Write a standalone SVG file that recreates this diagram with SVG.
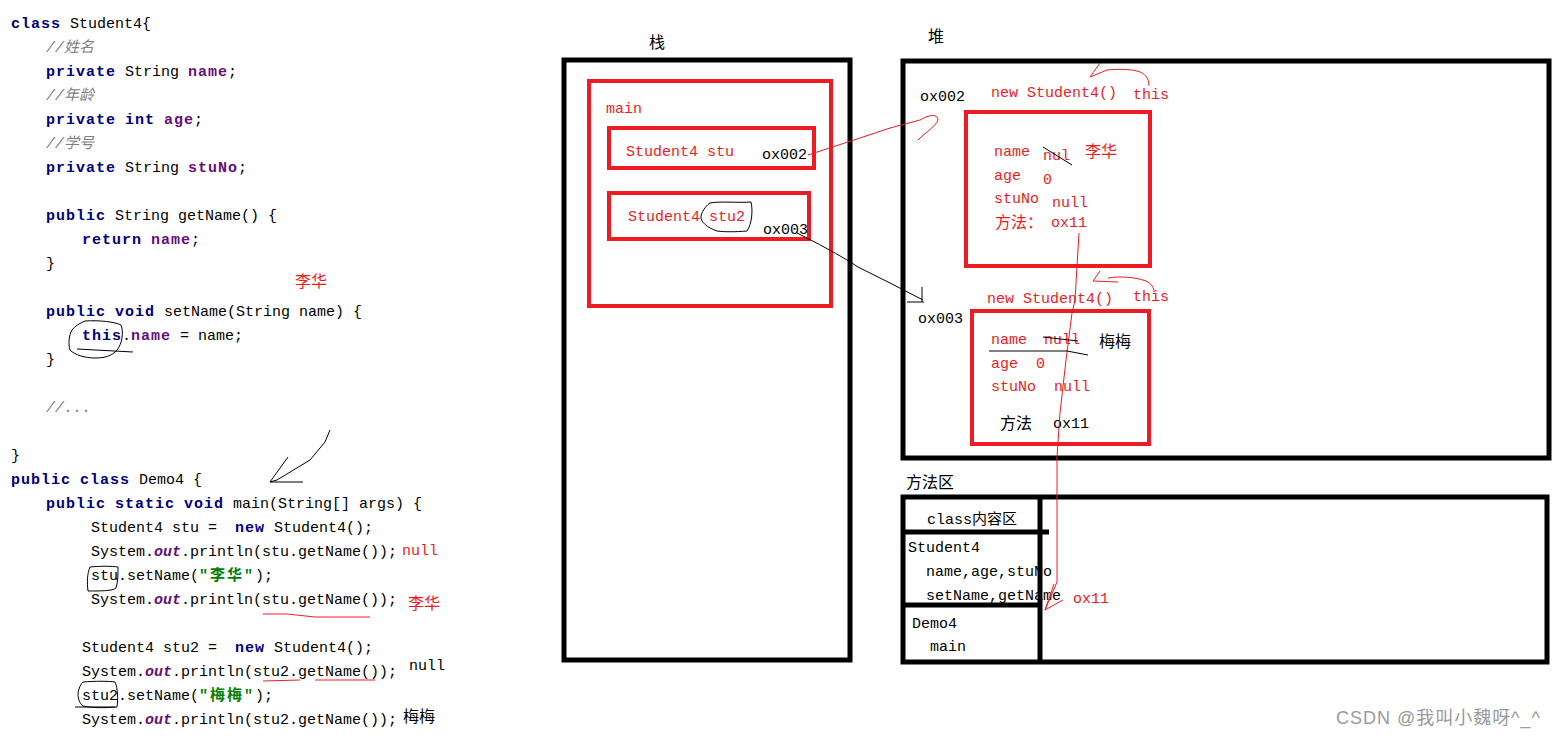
<svg xmlns="http://www.w3.org/2000/svg" width="1554" height="737" viewBox="0 0 1554 737">
<style>
text{font-family:"Liberation Mono","Noto Sans CJK SC",monospace;font-size:15px;white-space:pre;fill:#000}
.kw{fill:#000080;font-weight:bold;letter-spacing:1px}
.fd{fill:#660E7A;font-weight:bold;letter-spacing:1px}
.cm{fill:#808080;font-style:italic}
.st{fill:#008000;font-weight:bold;letter-spacing:2px}
.ot{fill:#660E7A;font-weight:bold;font-style:italic}
.r{fill:#ED1C24}
.cjk{font-family:"Noto Sans CJK SC",sans-serif;font-size:16px}
.wm{font-family:"Liberation Sans","Noto Sans CJK SC",sans-serif;font-size:18px;fill:#9a9a9a}
.bbox{fill:none;stroke:#000;stroke-width:5}
.rbox{fill:none;stroke:#ED1C24;stroke-width:4}
.hk{fill:none;stroke:#000;stroke-width:1}
.hr{fill:none;stroke:#ED1C24;stroke-width:1}
.ln{stroke:#000;stroke-width:5}
</style>
<rect width="1554" height="737" fill="#fff"/>

<g id="code">
<text x="11" y="28"><tspan class="kw">class</tspan> Student4{</text>
<text x="46" y="52" class="cm">//姓名</text>
<text x="46" y="76"><tspan class="kw">private</tspan> String <tspan class="fd">name</tspan>;</text>
<text x="46" y="100" class="cm">//年龄</text>
<text x="46" y="124"><tspan class="kw">private</tspan> <tspan class="kw">int</tspan> <tspan class="fd">age</tspan>;</text>
<text x="46" y="148" class="cm">//学号</text>
<text x="46" y="172"><tspan class="kw">private</tspan> String <tspan class="fd">stuNo</tspan>;</text>
<text x="46" y="220"><tspan class="kw">public</tspan> String getName() {</text>
<text x="82" y="244"><tspan class="kw">return</tspan> <tspan class="fd">name</tspan>;</text>
<text x="46" y="268">}</text>
<text x="46" y="316"><tspan class="kw">public</tspan> <tspan class="kw">void</tspan> setName(String name) {</text>
<text x="82" y="340"><tspan class="kw">this</tspan>.<tspan class="fd">name</tspan> = name;</text>
<text x="46" y="364">}</text>
<text x="46" y="412" class="cm">//...</text>
<text x="11" y="460">}</text>
<text x="11" y="484"><tspan class="kw">public</tspan> <tspan class="kw">class</tspan> Demo4 {</text>
<text x="46" y="508"><tspan class="kw">public</tspan> <tspan class="kw">static</tspan> <tspan class="kw">void</tspan> main(String[] args) {</text>
<text x="91" y="532">Student4 stu =  <tspan class="kw">new</tspan> Student4();</text>
<text x="91" y="556">System.<tspan class="ot">out</tspan>.println(stu.getName());</text>
<text x="91" y="580">stu.setName(<tspan class="st">"李华"</tspan>);</text>
<text x="91" y="604">System.<tspan class="ot">out</tspan>.println(stu.getName());</text>
<text x="82" y="652">Student4 stu2 =  <tspan class="kw">new</tspan> Student4();</text>
<text x="82" y="676">System.<tspan class="ot">out</tspan>.println(stu2.getName());</text>
<text x="82" y="700">stu2.setName(<tspan class="st">"梅梅"</tspan>);</text>
<text x="82" y="724">System.<tspan class="ot">out</tspan>.println(stu2.getName());</text>
<text x="46" y="748">}</text>
</g>

<g id="code-notes">
<text x="295" y="287" class="r cjk">李华</text>
<text x="402" y="555" class="r">null</text>
<text x="408" y="609" class="r cjk">李华</text>
<text x="409" y="670">null</text>
<text x="403" y="722" class="cjk">梅梅</text>
</g>

<g id="stack">
<text x="649" y="48" class="cjk">栈</text>
<rect x="564" y="60" width="286" height="600" class="bbox"/>
</g>
<g id="main-frame">
<rect x="589" y="81" width="242" height="225" class="rbox"/>
<text x="606" y="113" class="r">main</text>
</g>
<g id="var-stu">
<rect x="609" y="128" width="205" height="40" class="rbox"/>
<text x="626" y="156" class="r">Student4 stu</text>
<text x="762" y="159">ox002</text>
</g>
<g id="var-stu2">
<rect x="609" y="193" width="200" height="46" class="rbox"/>
<text x="628" y="221" class="r">Student4 stu2</text>
<text x="763" y="234">ox003</text>
</g>

<g id="heap">
<text x="928" y="42" class="cjk">堆</text>
<rect x="903" y="61" width="646" height="397" class="bbox"/>
<text x="920" y="101">ox002</text>
<text x="991" y="97" class="r">new Student4()</text>
<text x="1133" y="99" class="r">this</text>
<text x="987" y="303" class="r">new Student4()</text>
<text x="1133" y="301" class="r">this</text>
<text x="918" y="323">ox003</text>
</g>
<g id="obj1">
<rect x="966" y="112" width="184" height="154" class="rbox"/>
<text x="994" y="156" class="r">name</text>
<text x="1043" y="160" class="r">nul</text>
<text x="1085" y="157" class="r cjk">李华</text>
<text x="994" y="180" class="r">age</text>
<text x="1043" y="184" class="r">0</text>
<text x="994" y="203" class="r">stuNo</text>
<text x="1052" y="207" class="r">null</text>
<text x="995" y="228" class="r cjk">方法：</text>
<text x="1051" y="227" class="r">ox11</text>
</g>
<g id="obj2">
<rect x="972" y="311" width="177" height="133" class="rbox"/>
<text x="991" y="344" class="r">name</text>
<text x="1044" y="344" class="r">null</text>
<text x="1099" y="347" class="cjk">梅梅</text>
<text x="991" y="368" class="r">age</text>
<text x="1036" y="368" class="r">0</text>
<text x="991" y="391" class="r">stuNo</text>
<text x="1054" y="391" class="r">null</text>
<text x="1000" y="429" class="cjk">方法</text>
<text x="1053" y="428">ox11</text>
</g>

<g id="method-area">
<text x="906" y="488" class="cjk">方法区</text>
<text x="927" y="524">class内容区</text>
<text x="908" y="552">Student4</text>
<text x="926" y="576">name,age,stuNo</text>
<text x="926" y="600">setName,getName</text>
<text x="912" y="628">Demo4</text>
<text x="930" y="651">main</text>
<text x="1073" y="603" class="r">ox11</text>
<rect x="903" y="497" width="644" height="165" class="bbox"/>
<line x1="1040" y1="497" x2="1040" y2="662" class="ln"/>
<line x1="903" y1="532" x2="1049" y2="532" class="ln"/>
<line x1="903" y1="605" x2="1040" y2="605" class="ln"/>
</g>

<g id="connectors">
<path class="hr" d="M808,155 L860,138 L890,128 L920,120 C930,114 938,114 938,120 C936,126 926,132 918,140"/>
<path class="hk" d="M797,233 C815,242 840,255 858,267 L890,283 L923,300 M922,287 L922,302 M907,302 L924,302"/>
<path class="hr" d="M1079,233 L1075,300 L1072,313 L1066,360 L1060,413 L1057,457 L1057,582 L1045,610 M1045,610 L1054,584 M1045,610 L1063,600"/>
</g>

<g id="sketch-marks">
<path class="hr" d="M1100,63 L1090,77 L1107,70 C1115,69 1130,69 1137,71 C1145,73 1149,78 1149,86"/>
<path class="hr" d="M1100,271 L1093,281 L1118,282 M1108,278 C1120,276 1135,277 1146,281 C1152,284 1154,288 1154,292"/>
<path class="hk" d="M1043,147 L1072,165"/>
<path class="hk" d="M1043,337 L1078,341 M989,351 L1067,351 L1088,355"/>
<path class="hk" d="M710,203 C720,201 740,203 751,202 C753,210 752,224 747,231 C735,232 725,232 717,231 C708,228 700,222 701,216 C703,209 707,205 710,203"/>
<path class="hk" d="M85,321 C100,320 115,322 121,325 C124,332 122,344 117,350 C112,356 105,358 95,358 C85,358 75,355 70,350 C68,344 69,335 72,330 C75,326 80,323 85,321 M77,349 L133,352"/>
<path class="hk" d="M330,430 L325,442 L310,460 L277,480 L270,482 L303,482 M288,457 L270,482"/>
<path class="hk" d="M90,567 C100,566 112,566 118,567 C118,574 118,582 116,588 C113,591 100,591 88,591 C87,583 87,574 90,567"/>
<path class="hr" d="M263,614 L287,614 L315,617 L370,617"/>
<path class="hr" d="M263,681 L300,680 M315,680 L375,680"/>
<path class="hk" d="M83,682 C95,681 108,681 115,682 C118,688 118,700 117,707 C105,708 92,708 83,706 C78,702 77,694 79,689 C80,686 81,684 83,682 M75,707 L115,707"/>
</g>

<text x="1336" y="724" class="wm" textLength="204" lengthAdjust="spacing">CSDN @我叫小魏呀^_^</text>
</svg>
